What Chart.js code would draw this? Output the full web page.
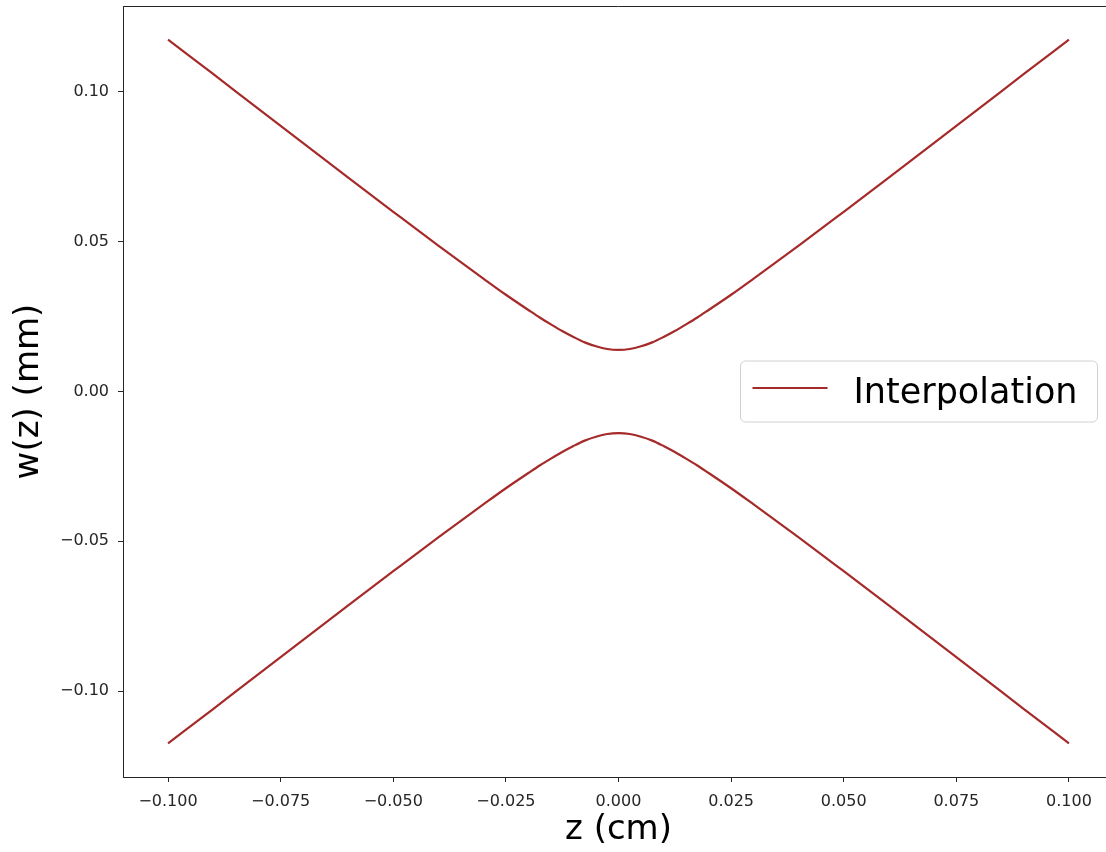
<!DOCTYPE html>
<html>
<head>
<meta charset="utf-8">
<script src="https://cdn.jsdelivr.net/npm/chart.js@4"></script>
<style>
  body { margin: 0; overflow: hidden; background: #fff; }
  #wrap { width: 1115px; height: 852px; }
</style>
</head>
<body>
<div id="wrap"><canvas id="beamChart"></canvas></div>
<script>
// beam radius
var zValues = [-0.1, -0.09, -0.08, -0.07, -0.06, -0.05, -0.04, -0.035, -0.03, -0.025, -0.02, -0.0175, -0.015, -0.0125, -0.01, -0.0075, -0.005, -0.0025,
  0, 0.0025, 0.005, 0.0075, 0.01, 0.0125, 0.015, 0.0175, 0.02, 0.025, 0.03, 0.035, 0.04, 0.05, 0.06, 0.07, 0.08, 0.09, 0.1];
var upperW = [0.1175, 0.1060, 0.0944, 0.0829, 0.0714, 0.0600, 0.0487, 0.0432, 0.0377, 0.0323, 0.0272, 0.0247, 0.0224, 0.0202, 0.0182, 0.0164, 0.0151, 0.0142,
  0.0139, 0.0142, 0.0151, 0.0164, 0.0182, 0.0202, 0.0224, 0.0247, 0.0272, 0.0323, 0.0377, 0.0432, 0.0487, 0.0600, 0.0714, 0.0829, 0.0944, 0.1060, 0.1175];
var lowerW = [-0.1175, -0.1060, -0.0944, -0.0829, -0.0714, -0.0600, -0.0487, -0.0432, -0.0377, -0.0323, -0.0272, -0.0247, -0.0224, -0.0202, -0.0182, -0.0164, -0.0151, -0.0142,
  -0.0139, -0.0142, -0.0151, -0.0164, -0.0182, -0.0202, -0.0224, -0.0247, -0.0272, -0.0323, -0.0377, -0.0432, -0.0487, -0.0600, -0.0714, -0.0829, -0.0944, -0.1060, -0.1175];
var xTicks = [-0.1, -0.075, -0.05, -0.025, 0, 0.025, 0.05, 0.075, 0.1];
var yTicks = [-0.1, -0.05, 0, 0.05, 0.1];
var seriesName = 'Interpolation';

var lineColor = '#a52a2a';
var axisColor = '#262626';

function toPoints(xs, ys) {
  return xs.map(function (x, i) { return { x: x, y: ys[i] }; });
}
function fmt(v, d) {
  var s = Math.abs(v) < 1e-12 ? (0).toFixed(d) : v.toFixed(d);
  return s.replace('-', '\u2212');
}

// top frame line and the legend box
var framePlugin = {
  id: 'frame',
  afterDraw: function (chart) {
    var c = chart.ctx, a = chart.chartArea;
    c.save();
    c.strokeStyle = axisColor;
    c.lineWidth = 1;
    c.beginPath();
    c.moveTo(a.left, a.top + 0.5);
    c.lineTo(a.right, a.top + 0.5);
    c.stroke();

    var bw = 357, bh = 61;
    var bx = a.right - 17 - bw + 0.5;
    var by = (a.top + a.bottom) / 2 - 30.5;
    c.fillStyle = 'rgba(255,255,255,0.8)';
    c.strokeStyle = '#d0d0d0';
    c.beginPath();
    c.roundRect(bx, by, bw, bh, 5);
    c.fill();
    c.stroke();

    c.strokeStyle = lineColor;
    c.lineWidth = 2.2;
    c.beginPath();
    c.moveTo(bx + 12, by + 27);
    c.lineTo(bx + 87, by + 27);
    c.stroke();

    c.fillStyle = '#000';
    c.font = '35px "DejaVu Sans"';
    c.textBaseline = 'alphabetic';
    c.fillText(seriesName, bx + 113, by + 41.5);
    c.restore();
  }
};

var ctx = document.getElementById('beamChart').getContext('2d');
var beamChart = new Chart(ctx, {
  type: 'scatter',
  data: {
    datasets: [{
      label: seriesName,
      data: toPoints(zValues, upperW),
      showLine: true,
      borderColor: lineColor,
      borderWidth: 2.2,
      pointRadius: 0,
      cubicInterpolationMode: 'monotone'
    }, {
      label: seriesName,
      data: toPoints(zValues, lowerW),
      showLine: true,
      borderColor: lineColor,
      borderWidth: 2.2,
      pointRadius: 0,
      cubicInterpolationMode: 'monotone'
    }]
  },
  options: {
    responsive: true,
    maintainAspectRatio: false,
    animation: false,
    layout: { padding: { top: 6, right: 1, left: 0, bottom: 0 } },
    plugins: {
      legend: { display: false },
      tooltip: { enabled: false }
    },
    scales: {
      x: {
        type: 'linear',
        min: -0.11,
        max: 0.11,
        afterBuildTicks: function (s) { s.ticks = xTicks.map(function (v) { return { value: v }; }); },
        afterFit: function (s) { s.height = 75; s.paddingLeft = 0; s.paddingRight = 0; },
        grid: { drawOnChartArea: false, tickLength: 5, color: axisColor },
        border: { color: axisColor, width: 1 },
        ticks: {
          padding: 10,
          maxRotation: 0,
          color: axisColor,
          font: { family: 'DejaVu Sans', size: 16 },
          callback: function (v) { return fmt(v, 3); }
        },
        title: {
          display: true,
          text: 'z (cm)',
          color: '#000',
          font: { family: 'DejaVu Sans', size: 34 },
          padding: { top: 0, bottom: 1 }
        }
      },
      y: {
        type: 'linear',
        min: -0.1287,
        max: 0.1287,
        afterBuildTicks: function (s) { s.ticks = yTicks.map(function (v) { return { value: v }; }); },
        afterFit: function (s) { s.width = 123; s.paddingTop = 0; s.paddingBottom = 0; },
        grid: { drawOnChartArea: false, tickLength: 5, color: axisColor },
        border: { color: axisColor, width: 1 },
        ticks: {
          padding: 9,
          color: axisColor,
          font: { family: 'DejaVu Sans', size: 16 },
          callback: function (v) { return fmt(v, 2); }
        },
        title: {
          display: true,
          text: 'w(z) (mm)',
          color: '#000',
          font: { family: 'DejaVu Sans', size: 34 },
          padding: { top: 9, bottom: 0 }
        }
      }
    }
  },
  plugins: [framePlugin]
});
</script>
</body>
</html>
